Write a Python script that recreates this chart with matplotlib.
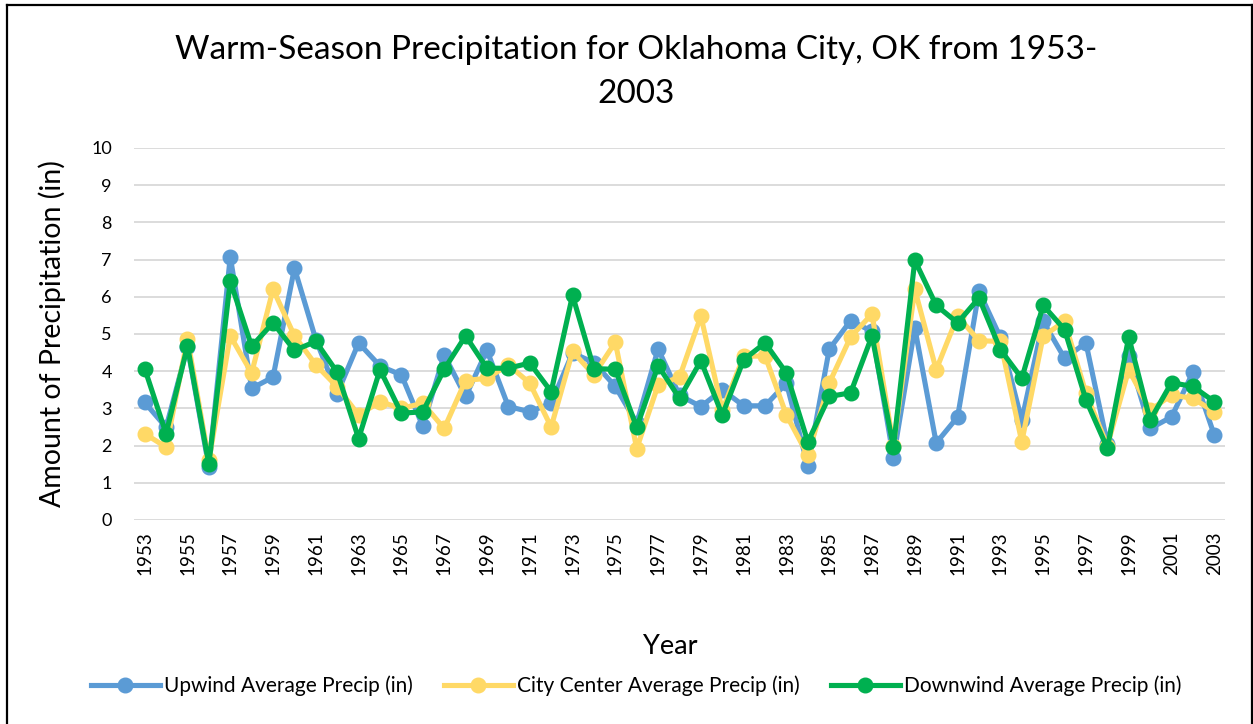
import matplotlib
matplotlib.use("Agg")
import matplotlib.pyplot as plt
from matplotlib.lines import Line2D
import numpy as np

plt.rcParams['font.family'] = ['Lato', 'DejaVu Sans']

years = list(range(1953, 2004))

# values
upwind = [3.16, 2.49, 4.65, 1.42, 7.08, 3.54, 3.84, 6.77, 4.85, 3.40,
          4.76, 4.14, 3.90, 2.52, 4.44, 3.32, 4.56, 3.05, 2.91, 3.14,
          4.49, 4.23, 3.59, 2.60, 4.60, 3.35, 3.05, 3.50, 3.07, 3.07,
          3.68, 1.45, 4.59, 5.36, 5.07, 1.68, 5.16, 2.07, 2.77, 6.15,
          4.91, 2.68, 5.34, 4.35, 4.76, 2.05, 4.40, 2.46, 2.77, 3.97,
          2.28]
city_center = [2.32, 1.96, 4.87, 1.60, 4.95, 3.95, 6.20, 4.95, 4.17, 3.58,
               2.82, 3.18, 3.00, 3.14, 2.46, 3.75, 3.81, 4.17, 3.68, 2.50,
               4.53, 3.90, 4.78, 1.92, 3.63, 3.84, 5.48, 2.95, 4.40, 4.41,
               2.82, 1.74, 3.68, 4.92, 5.54, 2.00, 6.20, 4.04, 5.48, 4.82,
               4.80, 2.10, 4.94, 5.34, 3.41, 2.00, 4.04, 2.95, 3.36, 3.27,
               2.91]
downwind = [4.07, 2.32, 4.68, 1.50, 6.42, 4.67, 5.30, 4.56, 4.80, 3.97,
            2.19, 4.04, 2.87, 2.91, 4.05, 4.95, 4.08, 4.08, 4.22, 3.45,
            6.04, 4.07, 4.05, 2.49, 4.15, 3.27, 4.28, 2.82, 4.31, 4.76,
            3.95, 2.10, 3.32, 3.42, 4.95, 1.96, 6.98, 5.77, 5.30, 5.97,
            4.58, 3.81, 5.77, 5.12, 3.23, 1.93, 4.92, 2.68, 3.69, 3.59,
            3.18]

series_names = ["Upwind Average Precip (in)",
                "City Center Average Precip (in)",
                "Downwind Average Precip (in)"]
series_colors = ["#5B9BD5", "#FFD966", "#00B050"]

W, H = 1253, 724
fig = plt.figure(figsize=(W / 100, H / 100), dpi=100)
ax = fig.add_axes([134 / W, 1 - 520 / H, (1225 - 134) / W, (520 - 148) / H])

x = np.arange(len(years))
for vals, name, col in zip([upwind, city_center, downwind], series_names, series_colors):
    ax.plot(x, vals, color=col, lw=3.7, marker="o", markersize=10.5,
            label=name, solid_joinstyle="round", zorder=3)

ax.set_xlim(-0.5, len(years) - 0.5)
ax.set_ylim(0, 10)
ax.set_yticks(range(0, 11))
ax.set_xticks(x[::2])
ax.set_xticklabels([str(y) for y in years[::2]], rotation=90, fontsize=13.5)
ax.tick_params(axis="y", labelsize=13, length=0, pad=16)
ax.tick_params(axis="x", length=0, pad=8)
ax.grid(axis="y", color="#D9D9D9", lw=1.3, zorder=0)
for s in ax.spines.values():
    s.set_visible(False)

ax.set_ylabel("Amount of Precipitation (in)", fontsize=20.5, labelpad=18)
fig.text(670 / W, 1 - 646 / H, "Year", fontsize=19.5, ha="center", va="center")
fig.text(636 / W, 1 - 72 / H,
         "Warm-Season Precipitation for Oklahoma City, OK from 1953-\n2003",
         fontsize=24, ha="center", va="center", linespacing=1.55)

leg = fig.legend(loc="center", bbox_to_anchor=(636 / W, 1 - 686 / H), ncol=3,
                 frameon=False, fontsize=15, handlelength=3.3,
                 columnspacing=1.5, handletextpad=0.2)

# outer chart border
border = dict(color="black", lw=1.6, transform=fig.transFigure)
fig.add_artist(Line2D([7 / W, 7 / W], [0, 1 - 5 / H], **border))
fig.add_artist(Line2D([7 / W, 1251.5 / W], [1 - 5 / H, 1 - 5 / H], **border))
fig.add_artist(Line2D([1251.5 / W, 1251.5 / W], [0, 1 - 5 / H], **border))

fig.savefig("out.png", dpi=100)
